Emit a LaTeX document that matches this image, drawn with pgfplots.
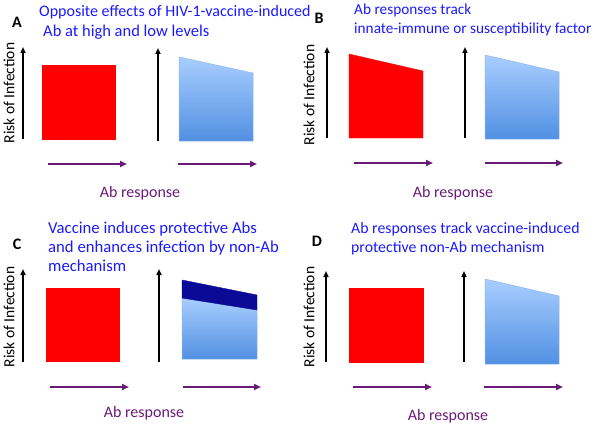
\documentclass[border=0pt]{standalone}
\usepackage{pgfplots}
\pgfplotsset{compat=1.18}
\usepackage{fontspec}
\setmainfont{Carlito}
\usetikzlibrary{arrows.meta}
\definecolor{ttlblue}{HTML}{1A1AFF}
\definecolor{abpurple}{HTML}{6A1B78}
\definecolor{btop}{HTML}{A8CEFF}
\definecolor{bbot}{HTML}{5290E2}
\definecolor{bedge}{HTML}{8CB8F0}
\definecolor{dblue}{HTML}{0A0A96}
\definecolor{myred}{HTML}{FF0000}
\begin{document}
\begin{tikzpicture}
\begin{axis}[width=600bp,height=427bp,scale only axis,
  xmin=0,xmax=600,ymin=0,ymax=427,y dir=reverse,
  hide axis,clip=false,anchor=south west,at={(0,0)}]
\addplot[draw=none] coordinates {(0,0) (600,427)};
% ---------- common styles
\pgfplotsset{
  blk/.style={black,line width=1.6bp,-{Triangle[length=6bp,width=5bp]}},
  pur/.style={abpurple,line width=1.8bp,-{Triangle[length=7bp,width=6bp]}},
  shp/.style={draw=bedge,line width=0.5bp,top color=btop,bottom color=bbot}
}
% ================= Panel A
\addplot[myred,fill=myred] coordinates {(42,65) (115,65) (115,139) (42,139)} -- cycle;
\addplot[shp] coordinates {(179,57) (253,73) (253,141) (179,141)} -- cycle;
\addplot[blk] coordinates {(23,139) (23,47)};
\addplot[blk] coordinates {(158,141) (158,48)};
\addplot[pur] coordinates {(48,164) (127,164)};
\addplot[pur] coordinates {(178,164) (257,164)};
% ================= Panel B
\addplot[myred,fill=myred] coordinates {(349,54) (423,71) (423,138) (349,138)} -- cycle;
\addplot[shp] coordinates {(485,55) (559,72) (559,139) (485,139)} -- cycle;
\addplot[blk] coordinates {(327,138) (327,47)};
\addplot[blk] coordinates {(465,138) (465,47)};
\addplot[pur] coordinates {(354,163) (433,163)};
\addplot[pur] coordinates {(485,163) (563,163)};
% ================= Panel C
\addplot[myred,fill=myred] coordinates {(46,288) (119,288) (119,361) (46,361)} -- cycle;
\addplot[shp] coordinates {(182,298) (257,310) (257,359) (182,359)} -- cycle;
\addplot[draw=dblue,fill=dblue] coordinates {(182,280) (257,295) (257,310) (182,298)} -- cycle;
\addplot[blk] coordinates {(23,362) (23,269)};
\addplot[blk] coordinates {(159,362) (159,269)};
\addplot[pur] coordinates {(50,387) (129,387)};
\addplot[pur] coordinates {(183,387) (261,387)};
% ================= Panel D
\addplot[myred,fill=myred] coordinates {(349,288) (423,288) (423,362) (349,362)} -- cycle;
\addplot[shp] coordinates {(485,279) (559,296) (559,364) (485,364)} -- cycle;
\addplot[blk] coordinates {(326,362) (326,271)};
\addplot[blk] coordinates {(464,362) (464,271)};
\addplot[pur] coordinates {(353,387) (432,387)};
\addplot[pur] coordinates {(484,387) (563,387)};
% ================= Text
\begin{scope}[every node/.style={inner sep=0pt}]
\node[font=\fontsize{16bp}{18bp}\selectfont\bfseries] at (axis cs:17,22) {A};
\node[font=\fontsize{16bp}{18bp}\selectfont\bfseries] at (axis cs:319,18) {B};
\node[font=\fontsize{16bp}{18bp}\selectfont\bfseries] at (axis cs:17,244) {C};
\node[font=\fontsize{16bp}{18bp}\selectfont\bfseries] at (axis cs:317,241) {D};
\begin{scope}[every node/.append style={text=ttlblue,anchor=west}]
\node[font=\fontsize{16bp}{19bp}\selectfont] at (axis cs:39,12) {Opposite effects of HIV-1-vaccine-induced};
\node[font=\fontsize{16.5bp}{19bp}\selectfont] at (axis cs:43,32) {Ab at high and low levels};
\node[font=\fontsize{15.3bp}{19bp}\selectfont] at (axis cs:354,10) {Ab responses track};
\node[font=\fontsize{15.3bp}{19bp}\selectfont] at (axis cs:354,29) {innate-immune or susceptibility factor};
\node[font=\fontsize{16.7bp}{19bp}\selectfont] at (axis cs:48,229) {Vaccine induces protective Abs};
\node[font=\fontsize{16.7bp}{19bp}\selectfont] at (axis cs:48,248) {and enhances infection by non-Ab};
\node[font=\fontsize{16.7bp}{19bp}\selectfont] at (axis cs:48,266) {mechanism};
\node[font=\fontsize{15.8bp}{19bp}\selectfont] at (axis cs:351,229) {Ab responses track vaccine-induced};
\node[font=\fontsize{15.8bp}{19bp}\selectfont] at (axis cs:351,248) {protective non-Ab mechanism};
\end{scope}
\begin{scope}[every node/.append style={font=\fontsize{15.5bp}{17bp}\selectfont,rotate=90}]
\node at (axis cs:9,93) {Risk of Infection};
\node at (axis cs:309,95) {Risk of Infection};
\node at (axis cs:9,317) {Risk of Infection};
\node at (axis cs:309,317) {Risk of Infection};
\end{scope}
\begin{scope}[every node/.append style={font=\fontsize{16bp}{18bp}\selectfont,text=abpurple}]
\node at (axis cs:140,193) {Ab response};
\node at (axis cs:453,193) {Ab response};
\node at (axis cs:144,413) {Ab response};
\node at (axis cs:448,416) {Ab response};
\end{scope}
\end{scope}
\end{axis}
\pgfresetboundingbox
\path (0,0) rectangle (600bp,427bp);
\end{tikzpicture}
\end{document}
